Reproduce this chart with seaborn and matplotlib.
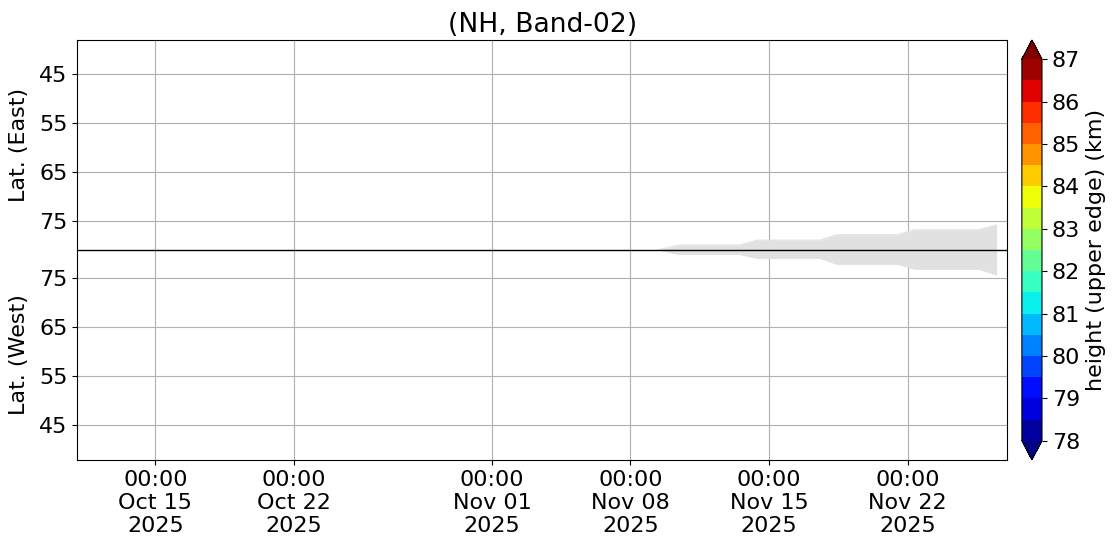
import matplotlib
matplotlib.use("Agg")
import matplotlib.pyplot as plt
import matplotlib.dates as mdates
import matplotlib as mpl
import numpy as np
import pandas as pd
import seaborn as sns

# ---- data ----
title = "(NH, Band-02)"
lat_ticks = [45, 55, 65, 75]
lat_center = 80.8     # latitude where East and West halves meet
lat_min = 38.0        # latitude at the outer edges of the plot

# coverage (grey) region: date, lowest latitude reached on each side
cover_dates = [
    "2025-11-09 10:00", "2025-11-10 10:00", "2025-11-13 12:00", "2025-11-14 10:00",
    "2025-11-17 14:00", "2025-11-18 10:00", "2025-11-21 12:00", "2025-11-22 08:00",
    "2025-11-25 14:00", "2025-11-26 12:00",
]
east_edge = [80.8, 79.8, 79.8, 78.8, 78.8, 77.7, 77.7, 76.7, 76.7, 75.7]
west_edge = [80.8, 79.9, 79.9, 79.1, 79.1, 77.9, 77.9, 76.9, 76.9, 75.7]

x_start = "2025-10-11 01:00"
x_end = "2025-11-27 01:00"

cbar_levels = np.arange(78, 87.01, 0.5)
cbar_ticks = list(range(78, 88))
cbar_label = "height (upper edge) (km)"

# ---- figure ----
sns.set_style("ticks")
plt.rcParams["font.family"] = ["DejaVu Sans"]
plt.rcParams["font.size"] = 16
for key in ["text.color", "axes.labelcolor", "xtick.color", "ytick.color", "axes.edgecolor"]:
    plt.rcParams[key] = "black"

fig = plt.figure(figsize=(11.18, 5.56), dpi=100)
ax = fig.add_axes([0.069, 0.173, 0.832, 0.755])
cax = fig.add_axes([0.914, 0.173, 0.018, 0.755])

df = pd.DataFrame({
    "date": pd.to_datetime(cover_dates),
    "east": lat_center - np.array(east_edge),
    "west": -(lat_center - np.array(west_edge)),
})

ax.fill_between(df["date"], df["west"], df["east"], color="#e1e1e1", lw=0, zorder=2)
sns.lineplot(data=df, x="date", y="east", ax=ax, color="#e1e1e1", lw=0.8, zorder=2)
sns.lineplot(data=df, x="date", y="west", ax=ax, color="#e1e1e1", lw=0.8, zorder=2)
ax.axhline(0, color="black", lw=1, zorder=3)

half = lat_center - lat_min
ax.set_ylim(-half, half)
ax.set_xlim(pd.Timestamp(x_start), pd.Timestamp(x_end))

ypos = [lat_center - v for v in lat_ticks] + [-(lat_center - v) for v in lat_ticks]
ylab = [str(v) for v in lat_ticks] * 2
ax.set_yticks(ypos)
ax.set_yticklabels(ylab)
ax.set_ylabel("")
ax.set_xlabel("")

ax.xaxis.set_major_locator(mdates.DayLocator(bymonthday=[1, 8, 15, 22]))
ax.xaxis.set_major_formatter(mdates.DateFormatter("%H:%M\n%b %d\n%Y"))
ax.tick_params(labelsize=16, length=3.5, width=0.8, colors="black")
ax.grid(True, color="#b0b0b0", lw=0.8, zorder=1)
ax.set_axisbelow(True)
for s in ax.spines.values():
    s.set_color("black")
    s.set_linewidth(0.8)

ax.text(-0.063, 0.75, "Lat. (East)", transform=ax.transAxes, rotation=90,
        ha="center", va="center", fontsize=16)
ax.text(-0.063, 0.25, "Lat. (West)", transform=ax.transAxes, rotation=90,
        ha="center", va="center", fontsize=16)
ax.set_title(title, fontsize=19.2)

# contourf-style colours: bins sampled at their midpoints, extensions at the ends
jet = plt.get_cmap("jet")
mids = (cbar_levels[:-1] + cbar_levels[1:]) / 2
cmap = mpl.colors.ListedColormap(jet((mids - cbar_levels[0]) / (cbar_levels[-1] - cbar_levels[0])))
cmap.set_under(jet(0.0))
cmap.set_over(jet(1.0))
norm = mpl.colors.BoundaryNorm(cbar_levels, ncolors=cmap.N)
sm = mpl.cm.ScalarMappable(norm=norm, cmap=cmap)
cb = fig.colorbar(sm, cax=cax, extend="both", ticks=cbar_ticks)
cb.minorticks_off()
cb.set_label(cbar_label, fontsize=16)
cb.ax.tick_params(labelsize=16, length=3.5, width=0.8, colors="black")
cb.outline.set_linewidth(0.8)

fig.savefig("out.png", dpi=100)
